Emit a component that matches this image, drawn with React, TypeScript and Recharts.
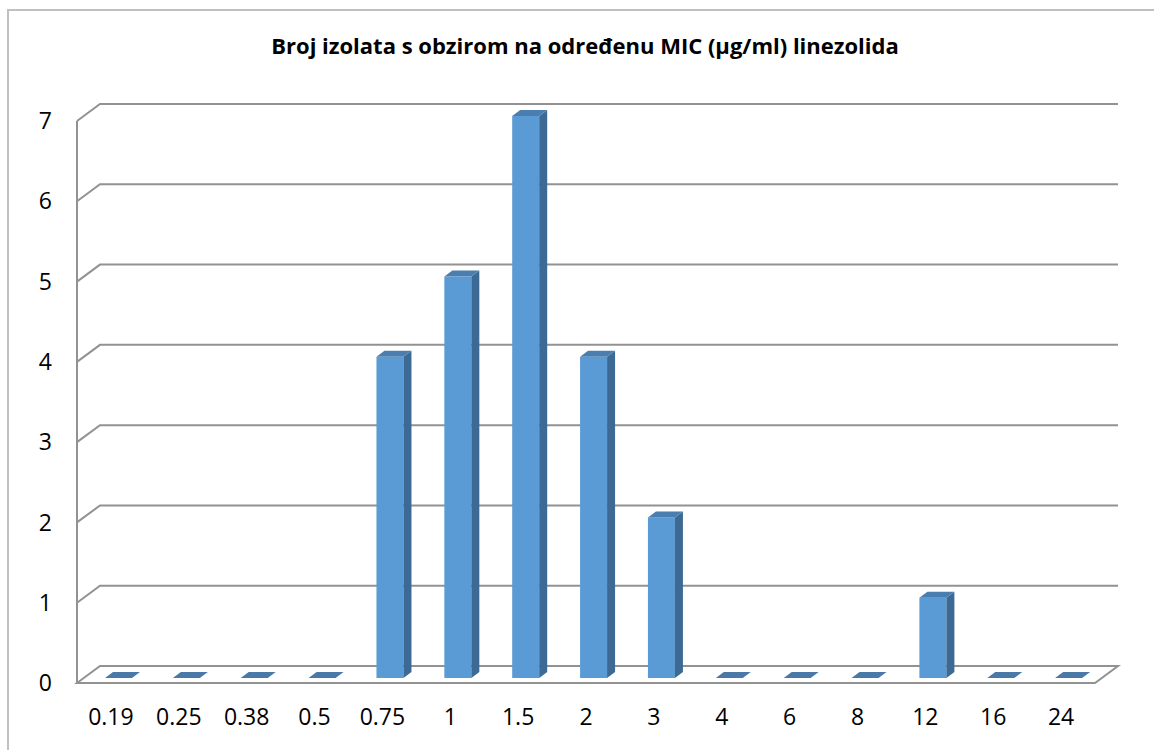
import React from "react";
import { BarChart, Bar, XAxis, YAxis, CartesianGrid } from "recharts";

const categories = ["0.19", "0.25", "0.38", "0.5", "0.75", "1", "1.5", "2", "3", "4", "6", "8", "12", "16", "24"];
const counts = [0, 0, 0, 0, 4, 5, 7, 4, 2, 0, 0, 0, 1, 0, 0];
const yTicks = [0, 1, 2, 3, 4, 5, 6, 7];

const data = categories.map((name, i) => ({ name, count: counts[i] }));

const FONT = "'Open Sans', 'Noto Sans', sans-serif";
const GRID = "#929292";
// depth of the back wall
const DX = 23;
const DY = 17;

function GridLine(props: any) {
  const { x1, x2, y1, index } = props;
  if (index === 0) {
    // floor
    return (
      <path
        key={props.key}
        d={`M${x1},${y1} L${x1 + DX},${y1 - DY} L${x2 + DX},${y1 - DY} L${x2},${y1} Z`}
        fill="none"
        stroke={GRID}
        strokeWidth={2}
      />
    );
  }
  return (
    <path
      key={props.key}
      d={`M${x1},${y1} L${x1 + DX},${y1 - DY} L${x2 + DX},${y1 - DY}`}
      fill="none"
      stroke={GRID}
      strokeWidth={2}
    />
  );
}

function Bar3D(props: any) {
  const { x, y, width, height } = props;
  const sx = 8;
  const sy = 5;
  const dx = 8;
  const dy = 6;
  const x0 = x + sx;
  const y0 = y - sy;
  const yb = y + height - sy;
  const x1 = x0 + width;
  if (!height || height < 1) {
    return (
      <polygon
        points={`${x0},${yb} ${x1},${yb} ${x1 + dx},${yb - dy} ${x0 + dx},${yb - dy}`}
        fill="#4a79a8"
      />
    );
  }
  return (
    <g>
      <rect x={x0} y={y0} width={width} height={yb - y0} fill="#5b9bd5" />
      <polygon points={`${x1},${y0} ${x1 + dx},${y0 - dy} ${x1 + dx},${yb - dy} ${x1},${yb}`} fill="#3d6a94" />
      <polygon points={`${x0},${y0} ${x0 + dx},${y0 - dy} ${x1 + dx},${y0 - dy} ${x1},${y0}`} fill="#4a7db0" />
    </g>
  );
}

export default function App() {
  return (
    <div style={{ position: "absolute", left: 0, top: 0, width: 1154, height: 750, background: "#fff", overflow: "hidden" }}>
      <div
        style={{
          position: "absolute",
          left: 7,
          top: 9,
          width: 1170,
          height: 770,
          border: "2px solid #c0c0c0",
          boxSizing: "border-box",
        }}
      />
      <div
        style={{
          position: "absolute",
          left: 0,
          top: 30,
          width: 1170,
          textAlign: "center",
          fontFamily: FONT,
          fontWeight: 700,
          fontSize: 22,
          color: "#000",
        }}
      >
        Broj izolata s obzirom na određenu MIC (µg/ml) linezolida
      </div>
      <div style={{ position: "absolute", left: 0, top: 0 }}>
        <BarChart
          width={1154}
          height={750}
          data={data}
          margin={{ top: 121, right: 59, bottom: 0, left: 0 }}
          barSize={27}
        >
          <CartesianGrid vertical={false} horizontal={(p: any) => <GridLine {...p} />} />
          <XAxis
            dataKey="name"
            height={67}
            axisLine={false}
            tickLine={false}
            tickSize={0}
            tickMargin={26}
            interval={0}
            tick={{ fill: "#000", fontSize: 23, fontFamily: FONT }}
          />
          <YAxis
            width={77}
            domain={[0, 7]}
            ticks={yTicks}
            interval={0}
            axisLine={{ stroke: GRID, strokeWidth: 2 }}
            tickLine={false}
            tickSize={0}
            tickMargin={25}
            tick={{ fill: "#000", fontSize: 23, fontFamily: FONT }}
          />
          <Bar dataKey="count" isAnimationActive={false} shape={(p: any) => <Bar3D {...p} />} />
        </BarChart>
      </div>
    </div>
  );
}
